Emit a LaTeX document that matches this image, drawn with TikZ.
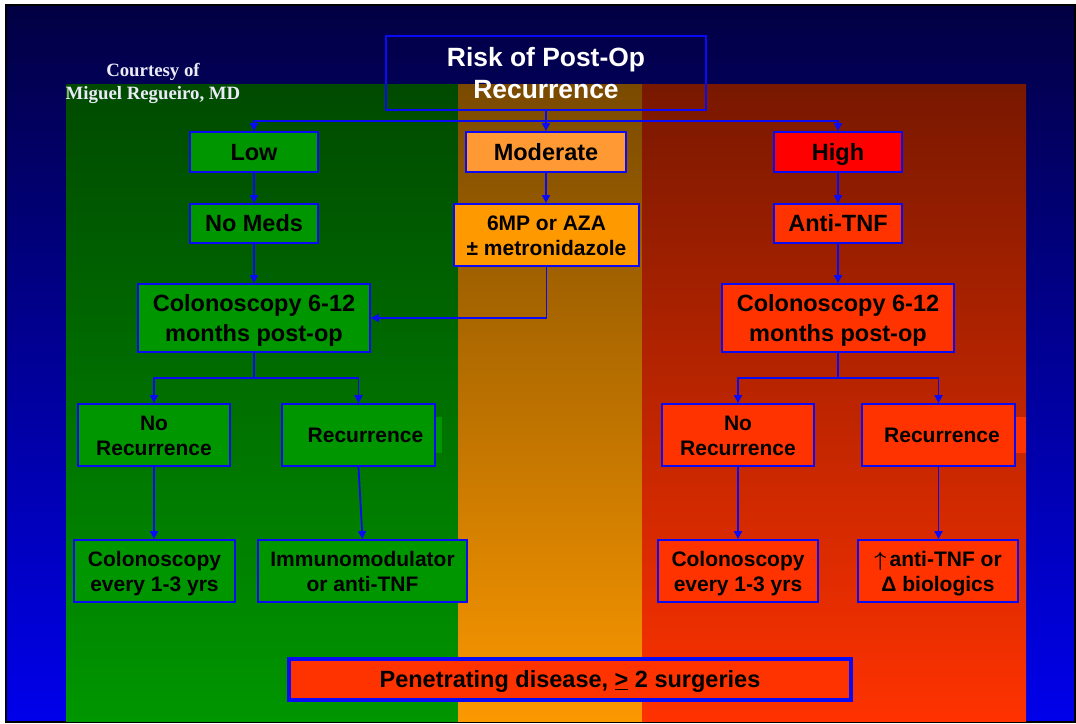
\documentclass[tikz,border=0pt]{standalone}
\usepackage{fontspec}
\setmainfont{Liberation Sans}
\newfontfamily\timesfont{Liberation Serif}
\usetikzlibrary{arrows.meta}
\definecolor{bgTop}{RGB}{2,0,66}
\definecolor{bgBot}{RGB}{0,0,235}
\definecolor{gTop}{RGB}{0,74,0}
\definecolor{gBot}{RGB}{0,150,0}
\definecolor{oTop}{RGB}{122,74,0}
\definecolor{oBot}{RGB}{252,152,0}
\definecolor{rTop}{RGB}{120,24,0}
\definecolor{rBot}{RGB}{255,50,0}
\definecolor{boxblue}{RGB}{10,10,245}
\definecolor{gFill}{RGB}{0,150,0}
\definecolor{modFill}{RGB}{255,153,51}
\definecolor{oFill}{RGB}{255,153,0}
\definecolor{hiFill}{RGB}{255,0,0}
\definecolor{rFill}{RGB}{255,51,0}
\definecolor{credit}{RGB}{235,235,248}
\newcommand\fTitle{\fontsize{26.4}{32}\selectfont\bfseries}
\newcommand\fBig{\fontsize{23.5}{30}\selectfont\bfseries}
\newcommand\fSmall{\fontsize{21}{25}\selectfont\bfseries}
\begin{document}
\begin{tikzpicture}[x=1pt,y=-1pt,
  box/.style={draw=boxblue, line width=1.8pt, inner sep=0pt, align=center, text=black},
  bigone/.style={font=\fBig, text height=16.9pt, text depth=0pt},
  bigtwo/.style={font=\fBig, text height=46.9pt, text depth=0pt},
  smallone/.style={font=\fSmall, text height=15.1pt, text depth=0pt},
  smalltwo/.style={font=\fSmall, text height=40.1pt, text depth=0pt},
  arr/.style={draw=boxblue, line width=1.8pt, -{Triangle[length=8pt,width=8pt]}},
  ln/.style={draw=boxblue, line width=1.8pt}]
\useasboundingbox (0,0) rectangle (1076,723);
\fill[white] (0,0) rectangle (1076,723);
\shade[top color=bgTop, bottom color=bgBot] (6,5) rectangle (1075,722);
\draw[black, line width=2pt] (6,5) rectangle (1075,722);
% panels
\shade[top color=gTop, bottom color=gBot] (66,84) rectangle (458,721);
\shade[top color=oTop, bottom color=oBot] (458,84) rectangle (642,721);
\shade[top color=rTop, bottom color=rBot] (642,84) rectangle (1026,721);
% credit
\node[text=credit, font=\timesfont\fontsize{18.8}{23}\selectfont\bfseries, align=center, text height=35.5pt, text depth=0pt, inner sep=0pt] (credit) at (153,81.5) {Courtesy of\\Miguel Regueiro, MD};
% title
\node[box, text=white, minimum width=320pt, minimum height=74pt, font=\fTitle, text height=51pt, text depth=0pt] (title) at (546,73) {Risk of Post-Op\\Recurrence};
% level 1
\node[box, fill=gFill, minimum width=128pt, minimum height=40pt, bigone] (low) at (254,152) {Low};
\node[box, fill=modFill, minimum width=160pt, minimum height=40pt, bigone] (mod) at (546,152) {Moderate};
\node[box, fill=hiFill, minimum width=128pt, minimum height=40pt, bigone] (high) at (838,152) {High};
% level 2
\node[box, fill=gFill, minimum width=128pt, minimum height=39pt, bigone] (nomeds) at (254,223.5) {No Meds};
\node[box, fill=oFill, minimum width=185pt, minimum height=62pt, smalltwo] (sixmp) at (546.5,235) {6MP or AZA\\± metronidazole};
\node[box, fill=rFill, minimum width=128pt, minimum height=39pt, bigone] (antitnf) at (838,223.5) {Anti-TNF};
% level 3
\node[box, fill=gFill, minimum width=232pt, minimum height=68pt, bigtwo] (colG) at (254,318) {Colonoscopy 6-12\\months post-op};
\node[box, fill=rFill, minimum width=232pt, minimum height=68pt, bigtwo] (colR) at (838,318) {Colonoscopy 6-12\\months post-op};
% overflow fills of the Recurrence boxes
\fill[gFill] (434,417) rectangle (442,453);
\fill[rFill] (1014,417) rectangle (1026,453);
% level 4
\node[box, fill=gFill, minimum width=152pt, minimum height=62pt, smalltwo] (noRecG) at (154,435) {No\\Recurrence};
\node[box, fill=gFill, minimum width=153pt, minimum height=62pt, smallone] (recG) at (358.5,435) {\hspace{14pt}Recurrence};
\node[box, fill=rFill, minimum width=152pt, minimum height=62pt, smalltwo] (noRecR) at (738,435) {No\\Recurrence};
\node[box, fill=rFill, minimum width=153pt, minimum height=62pt, smallone] (recR) at (938.5,435) {\hspace{7pt}Recurrence};
% level 5
\node[box, fill=gFill, minimum width=161pt, minimum height=62pt, smalltwo] (colEvG) at (154.5,571) {Colonoscopy\\every 1-3 yrs};
\node[box, fill=gFill, minimum width=209pt, minimum height=62pt, smalltwo] (immG) at (362.5,571) {Immunomodulator\\or anti-TNF};
\node[box, fill=rFill, minimum width=160pt, minimum height=62pt, smalltwo] (colEvR) at (738,571) {Colonoscopy\\every 1-3 yrs};
\node[box, fill=rFill, minimum width=160pt, minimum height=62pt, smalltwo] (upR) at (938,571) {{\boldmath$\uparrow$}\,anti-TNF or\\Δ biologics};
% bottom
\node[box, fill=rFill, line width=3.5pt, minimum width=562pt, minimum height=41pt, bigone] (pen) at (570,679.5) {Penetrating disease, \underline{>} 2 surgeries};
% connectors
\coordinate (j1) at (546,121);
\draw[ln] (title.south) -- (j1);
\draw[arr] (j1) -| (low.north);
\draw[arr] (j1) -| (high.north);
\draw[arr] (j1) -- (mod.north);
\draw[arr] (low) -- (nomeds);
\draw[arr] (mod) -- (mod.south |- sixmp.north);
\draw[arr] (high) -- (antitnf);
\draw[arr] (nomeds) -- (colG);
\draw[arr] (antitnf) -- (colR);
\draw[arr] (sixmp.south) |- (colG.east);
\coordinate (j2) at (254,378);
\draw[ln] (colG.south) -- (j2);
\draw[arr] (j2) -| (noRecG.north);
\draw[arr] (j2) -| (recG.north);
\coordinate (j3) at (838,378);
\draw[ln] (colR.south) -- (j3);
\draw[arr] (j3) -| (noRecR.north);
\draw[arr] (j3) -| (recR.north);
\draw[arr] (noRecG.south) -- (noRecG.south |- colEvG.north);
\draw[arr] (recG.south) -- (immG.north);
\draw[arr] (noRecR.south) -- (noRecR.south |- colEvR.north);
\draw[arr] (recR.south) -- (recR.south |- upR.north);
\end{tikzpicture}
\end{document}
